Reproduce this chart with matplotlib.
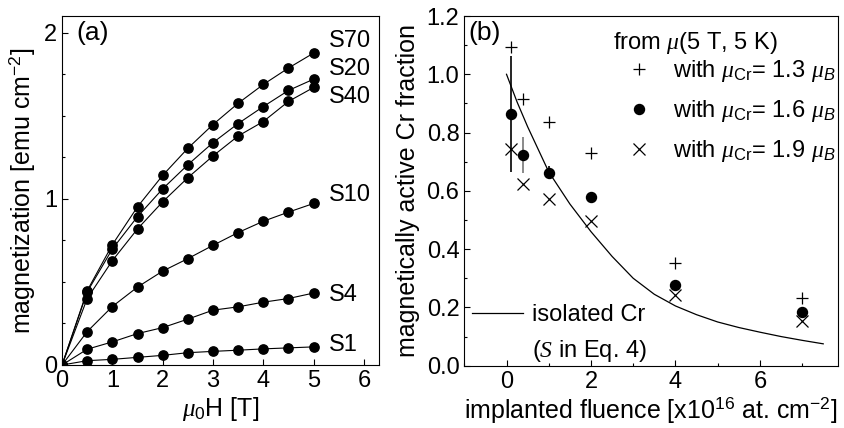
import matplotlib
matplotlib.use("Agg")
import matplotlib.pyplot as plt
from matplotlib.ticker import MultipleLocator, FormatStrFormatter
from matplotlib.lines import Line2D

plt.rcParams['font.family'] = ['Liberation Sans', 'DejaVu Sans']
plt.rcParams['mathtext.fontset'] = 'custom'
plt.rcParams['mathtext.rm'] = 'Liberation Sans'
plt.rcParams['mathtext.sf'] = 'Liberation Sans'
plt.rcParams['mathtext.it'] = 'Liberation Serif:italic'
plt.rcParams['mathtext.cal'] = 'Liberation Serif:italic'
plt.rcParams['mathtext.bf'] = 'Liberation Sans:italic'

# ---------------- data: panel (a) ----------------
field = [0, 0.5, 1, 1.5, 2, 2.5, 3, 3.5, 4, 4.5, 5]
m_S70 = [0, 0.447, 0.724, 0.952, 1.141, 1.304, 1.447, 1.575, 1.688, 1.787, 1.877]
m_S20 = [0, 0.440, 0.698, 0.893, 1.060, 1.205, 1.338, 1.453, 1.555, 1.652, 1.720]
m_S40 = [0, 0.400, 0.628, 0.819, 0.982, 1.127, 1.258, 1.378, 1.465, 1.586, 1.670]
m_S10 = [0, 0.201, 0.352, 0.469, 0.565, 0.640, 0.720, 0.797, 0.865, 0.920, 0.972]
m_S4 = [0, 0.095, 0.139, 0.189, 0.225, 0.276, 0.330, 0.350, 0.378, 0.400, 0.433]
m_S1 = [0, 0.026, 0.034, 0.046, 0.058, 0.074, 0.082, 0.089, 0.097, 0.103, 0.109]
sample_names = ['S70', 'S20', 'S40', 'S10', 'S4', 'S1']
sample_series = [m_S70, m_S20, m_S40, m_S10, m_S4, m_S1]
label_y = [1.95, 1.78, 1.61, 1.02, 0.42, 0.12]

# ---------------- data: panel (b) ----------------
fluence = [0.1, 0.4, 1, 2, 4, 7]
frac_13 = [1.095, 0.915, 0.837, 0.729, 0.351, 0.233]
frac_16 = [0.864, 0.723, 0.662, 0.578, 0.277, 0.183]
frac_19 = [0.744, 0.622, 0.571, 0.498, 0.241, 0.153]
err_16 = [0.2, 0.063, 0.023, 0.0, 0.0, 0.0]
err_colors = ['black', '#777777', 'black', 'black', 'black', 'black']

curve_x = [0, 0.25, 0.5, 1, 1.5, 2, 2.5, 3, 3.5, 4, 4.5, 5, 5.5, 6, 6.5, 7, 7.5]
curve_y = [1.0, 0.905, 0.82, 0.665, 0.555, 0.46, 0.375, 0.30, 0.245, 0.205,
           0.175, 0.150, 0.131, 0.115, 0.100, 0.087, 0.075]

fig = plt.figure(figsize=(8.44, 4.28), dpi=100)
axa = fig.add_axes([0.0735, 0.1472, 0.3756, 0.8154])
axb = fig.add_axes([0.5501, 0.1456, 0.4428, 0.8170])

TICK_FS = 17
LAB_FS = 18

for ax in (axa, axb):
    for s in ax.spines.values():
        s.set_linewidth(0.8)
    ax.tick_params(which='both', direction='in', top=False, right=False,
                   labelsize=TICK_FS, width=0.8)
    ax.tick_params(which='major', length=4)
    ax.tick_params(which='minor', length=2.5)

# ---- panel (a)
for name, ser, ly in zip(sample_names, sample_series, label_y):
    axa.plot(field, ser, '-o', color='black', lw=0.8, ms=6.7)
    axa.text(5.3, ly, name, fontsize=TICK_FS, va='center', ha='left')
axa.set_xlim(0, 6.3)
axa.set_ylim(0, 2.1)
axa.xaxis.set_major_locator(MultipleLocator(1))
axa.yaxis.set_major_locator(MultipleLocator(1))
axa.yaxis.set_minor_locator(MultipleLocator(0.25))
axa.set_xlabel(r'$\mu_{\mathrm{0}}$H [T]', fontsize=LAB_FS, labelpad=2)
axa.set_ylabel(r'magnetization [emu cm$^{\mathrm{-2}}$]', fontsize=LAB_FS, labelpad=5)
axa.text(0.044, 0.951, '(a)', transform=axa.transAxes, fontsize=19,
         va='center', ha='left')

# ---- panel (b)
axb.plot(curve_x, curve_y, '-', color='black', lw=0.9)
axb.vlines(fluence, [y - e for y, e in zip(frac_16, err_16)],
           [y + e for y, e in zip(frac_16, err_16)], colors=err_colors, lw=1.2)
h13, = axb.plot(fluence, frac_13, '+', color='black', ms=9, mew=0.9, ls='none')
h16, = axb.plot(fluence, frac_16, 'o', color='black', ms=7.2, ls='none')
h19, = axb.plot(fluence, frac_19, 'x', color='black', ms=8.5, mew=0.9, ls='none')
axb.set_xlim(-1, 7.85)
axb.set_ylim(0, 1.2)
axb.xaxis.set_major_locator(MultipleLocator(2))
axb.xaxis.set_minor_locator(MultipleLocator(1))
axb.yaxis.set_major_locator(MultipleLocator(0.2))
axb.yaxis.set_minor_locator(MultipleLocator(0.1))
axb.yaxis.set_major_formatter(FormatStrFormatter('%.1f'))
axb.set_xlabel(r'implanted fluence [x10$^{\mathrm{16}}$ at. cm$^{\mathrm{-2}}$]',
               fontsize=LAB_FS, labelpad=2)
axb.set_ylabel('magnetically active Cr fraction', fontsize=LAB_FS, labelpad=5)
axb.text(0.01, 0.952, '(b)', transform=axb.transAxes, fontsize=19,
         va='center', ha='left')
axb.text(0.398, 0.923, r'from $\mu$(5 T, 5 K)', transform=axb.transAxes,
         fontsize=TICK_FS, va='center', ha='left')

labels = [r'with $\mu_{\mathrm{Cr}}$= 1.3 $\mu_{\mathbf{B}}$',
          r'with $\mu_{\mathrm{Cr}}$= 1.6 $\mu_{\mathbf{B}}$',
          r'with $\mu_{\mathrm{Cr}}$= 1.9 $\mu_{\mathbf{B}}$']
leg1 = axb.legend([h13, h16, h19], labels, loc='upper left',
                  bbox_to_anchor=(0.436, 0.88), frameon=False, fontsize=TICK_FS,
                  borderpad=0, borderaxespad=0, handlelength=1.0,
                  handletextpad=0.94, labelspacing=0.6)
axb.add_artist(leg1)
line_h = Line2D([], [], color='black', lw=0.9)
empty_h = Line2D([], [], color='none', lw=0)
leg2 = axb.legend([line_h, empty_h], ['isolated Cr', r'($\mathcal{S}$ in Eq. 4)'],
                  loc='lower left', bbox_to_anchor=(0.0198, 0.004), frameon=False,
                  fontsize=TICK_FS, borderpad=0, borderaxespad=0,
                  handlelength=2.17, handletextpad=0.37, labelspacing=0.5)

fig.savefig('out.png', dpi=100)
